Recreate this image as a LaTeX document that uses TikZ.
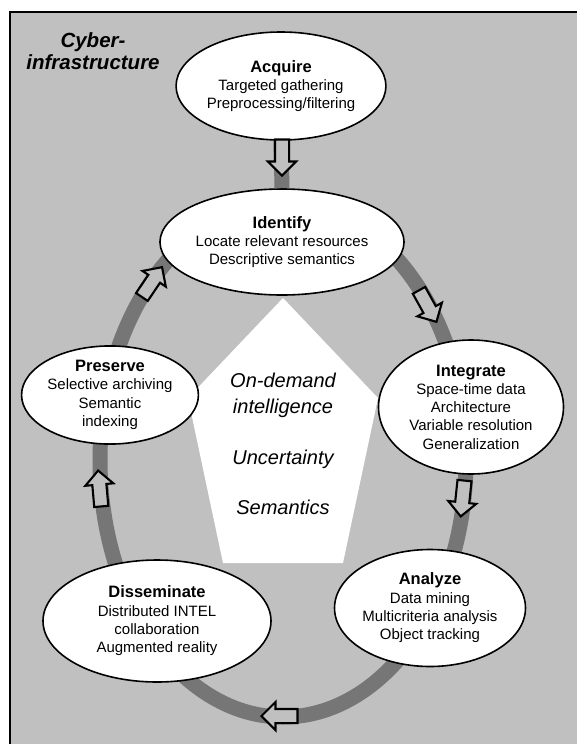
\documentclass[tikz,border=0pt]{standalone}
\usepackage{fontspec}
\setmainfont{Liberation Sans}
\usetikzlibrary{shapes.geometric,shapes.arrows}
\definecolor{panel}{RGB}{192,192,192}
\definecolor{track}{RGB}{118,118,118}
\begin{document}
\begin{tikzpicture}[x=1pt,y=-1pt,
  stage/.style={ellipse,draw,line width=1.6pt,fill=white,inner sep=0pt,align=center,font=\fontsize{15}{18.3}\selectfont},
  flow/.style={single arrow,draw,line width=2.1pt,fill=panel,inner xsep=0pt,inner ysep=6pt,
    minimum width=0pt,minimum height=36pt,single arrow head extend=7pt},
  theme/.style={font=\fontsize{20}{26}\selectfont\itshape,align=center}]
\newcommand{\ttl}[1]{{\fontsize{16.5}{18.3}\selectfont\bfseries #1}}
\useasboundingbox (0,0) rectangle (577,744);
% frame, cut at the right and bottom
\begin{scope}
\clip (0,0) rectangle (577,744);
\draw[fill=panel,line width=2pt] (10,12) rectangle (600,770);
\end{scope}
% cycle track
\coordinate (ring) at (283,460);
\draw[track,line width=15pt] (ring) ellipse [x radius=183pt, y radius=257pt];
% core
\fill[white] (283,298) -- (378,398) -- (343,563) -- (223,563) -- (188,398) -- cycle;
\node[theme] (core1) at (283,395) {On-demand\\intelligence};
\node[theme] (core2) at (283,459) {Uncertainty};
\node[theme] (core3) at (283,507) {Semantics};
% stages
\node[stage,minimum width=208pt,minimum height=108pt] (acquire) at (281,86)
  {\ttl{Acquire}\\Targeted gathering\\Preprocessing/filtering};
\node[stage,minimum width=210pt,minimum height=106pt] (identify) at (282,242)
  {\ttl{Identify}\\Locate relevant resources\\Descriptive semantics};
\draw[track,line width=15pt] (acquire.south) -- (identify.north);
\node[stage,minimum width=185pt,minimum height=134pt] (integrate) at (471,407)
  {\ttl{Integrate}\\Space-time data\\Architecture\\Variable resolution\\Generalization};
\node[stage,minimum width=185pt,minimum height=117pt] (analyze) at (430,608)
  {\ttl{Analyze}\\Data mining\\Multicriteria analysis\\Object tracking};
\node[stage,minimum width=228pt,minimum height=122pt] (disseminate) at (157,621)
  {\ttl{Disseminate}\\Distributed INTEL\\collaboration\\Augmented reality};
\node[stage,minimum width=154pt,minimum height=95pt] (preserve) at (110,395)
  {\ttl{Preserve}\\Selective archiving\\Semantic\\indexing};
\node[font=\fontsize{20.5}{22}\selectfont\bfseries\itshape,align=center] (cyber) at (93,51) {Cyber-\\infrastructure};
% flow arrows
\node[flow,rotate=-90] (f1) at (282,154) {};
\node[flow,rotate=-61] (f2) at (426,303) {};
\node[flow,rotate=-96] (f3) at (463,495) {};
\node[flow,rotate=180] (f4) at (283,716) {};
\node[flow,rotate=95] (f5) at (100,492) {};
\node[flow,rotate=56] (f6) at (150,285) {};
\end{tikzpicture}
\end{document}
